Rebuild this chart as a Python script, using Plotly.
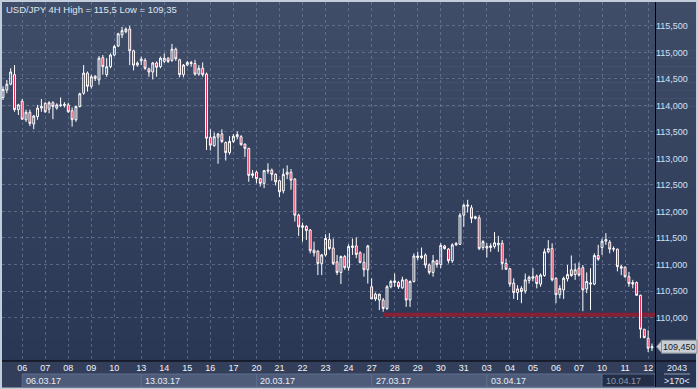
import plotly.graph_objects as go

# ---------------- data ----------------
opens = [114.15,114.29,114.40,114.58,113.92,114.08,113.73,113.87,113.65,113.79,
         113.95,114.04,113.93,114.05,113.95,114.01,114.00,114.01,113.90,113.73,
         113.98,114.23,114.61,114.36,114.55,114.48,114.90,114.58,114.73,114.95,
         115.12,115.33,115.39,115.44,115.03,114.76,114.84,114.85,114.69,114.63,
         114.80,114.73,114.83,114.89,114.85,115.06,114.86,114.58,114.76,114.81,
         114.79,114.59,114.70,114.59,113.40,113.24,113.40,113.46,113.30,113.11,
         113.32,113.41,113.41,113.27,113.19,112.68,112.74,112.62,112.53,112.76,
         112.78,112.70,112.58,112.39,112.70,112.74,112.61,111.93,111.70,111.72,
         111.65,111.27,111.25,111.02,111.18,111.47,111.31,111.05,110.85,111.15,
         110.94,111.32,111.35,111.22,111.04,110.90,110.58,110.44,110.33,110.33,
         110.17,110.58,110.66,110.66,110.56,110.71,110.33,110.68,111.13,111.13,
         111.18,110.99,110.85,111.07,111.00,111.35,111.29,111.07,111.37,111.38,
         111.93,112.10,112.07,111.87,111.88,111.32,111.31,111.32,111.34,111.37,
         111.40,111.02,110.92,110.65,110.47,110.55,110.50,110.70,110.74,110.78,
         110.63,110.79,111.24,111.30,110.74,110.43,110.52,110.73,110.90,110.81,
         110.93,110.94,110.54,110.63,110.63,111.17,111.32,111.44,111.42,111.30,
         111.29,110.96,110.95,110.77,110.66,110.66,110.42,109.78,109.61,109.43]
highs = [114.36,114.48,114.70,114.76,114.03,114.12,113.92,113.92,113.82,114.01,
         114.12,114.06,114.08,114.08,114.04,114.15,114.06,114.05,113.96,113.99,
         114.24,114.76,114.64,114.58,114.57,114.93,114.95,114.89,114.98,115.14,
         115.37,115.48,115.47,115.50,115.05,114.83,114.92,114.89,114.71,114.82,
         114.83,114.92,114.98,114.91,115.16,115.09,114.88,114.78,114.84,114.84,
         114.86,114.76,114.81,114.62,113.55,113.49,113.48,113.55,113.32,113.42,
         113.46,113.51,113.44,113.28,113.20,112.78,112.77,112.63,112.78,112.91,
         112.81,112.72,112.60,112.81,112.87,112.80,112.63,111.96,111.79,111.74,
         111.67,111.43,111.27,111.20,111.57,111.59,111.49,111.18,111.17,111.18,
         111.38,111.49,111.51,111.25,111.21,111.37,110.74,110.47,110.45,110.37,
         110.61,110.71,110.83,110.69,110.77,110.73,110.70,111.21,111.24,111.32,
         111.21,111.02,111.18,111.09,111.40,111.37,111.31,111.40,111.42,111.97,
         112.15,112.22,112.12,111.92,111.93,111.46,111.40,111.40,111.61,111.54,
         111.46,111.11,110.93,110.74,110.61,110.59,110.83,110.79,110.93,110.81,
         110.83,111.30,111.46,111.40,110.76,110.61,110.77,110.99,111.17,111.02,
         111.04,110.99,110.85,110.93,111.21,111.37,111.49,111.59,111.46,111.34,
         111.30,110.99,110.96,110.86,110.71,110.68,110.43,109.78,109.76,109.51]
lows = [114.10,114.23,114.38,113.88,113.82,113.73,113.69,113.61,113.55,113.73,
        113.88,113.86,113.85,113.74,113.92,113.97,113.96,113.86,113.60,113.69,
        113.96,114.20,114.26,114.32,114.46,114.39,114.58,114.54,114.70,114.93,
        115.10,115.27,115.36,114.76,114.66,114.73,114.76,114.67,114.54,114.49,
        114.54,114.70,114.80,114.80,114.82,114.84,114.53,114.53,114.74,114.73,
        114.56,114.56,114.54,113.16,113.15,113.22,112.90,113.29,112.96,113.07,
        113.29,113.36,113.24,113.03,112.56,112.63,112.53,112.47,112.44,112.71,
        112.58,112.49,112.27,112.34,112.61,112.41,111.81,111.54,111.43,111.46,
        111.21,111.15,110.80,110.80,111.15,111.27,110.99,110.80,110.63,110.90,
        110.88,111.18,111.12,111.02,110.77,110.64,110.35,110.31,110.14,110.11,
        110.14,110.55,110.58,110.54,110.54,110.20,110.20,110.66,111.08,111.10,
        110.93,110.81,110.77,110.94,110.93,111.28,111.02,111.03,111.35,111.37,
        111.71,111.98,111.78,111.85,111.27,111.27,111.13,111.24,111.30,111.24,
        110.90,110.90,110.58,110.35,110.33,110.27,110.45,110.64,110.68,110.55,
        110.58,110.77,111.21,110.68,110.27,110.36,110.35,110.68,110.77,110.71,
        110.77,110.12,110.46,110.14,110.61,111.07,111.18,111.37,111.21,111.24,
        110.87,110.80,110.75,110.58,110.55,110.41,109.61,109.61,109.35,109.37]
closes = [114.30,114.40,114.63,113.92,114.01,113.74,113.87,113.66,113.80,113.95,
          113.98,113.88,114.05,113.98,114.01,114.00,114.02,113.88,113.73,113.98,
          114.22,114.61,114.36,114.54,114.51,114.89,114.73,114.73,114.95,115.11,
          115.35,115.41,115.44,115.03,114.76,114.80,114.87,114.70,114.63,114.80,
          114.72,114.89,114.89,114.83,115.06,114.88,114.58,114.76,114.81,114.79,
          114.59,114.70,114.58,113.38,113.25,113.41,113.46,113.32,113.11,113.32,
          113.42,113.45,113.26,113.19,112.68,112.71,112.62,112.53,112.77,112.78,
          112.70,112.56,112.37,112.70,112.74,112.59,111.93,111.71,111.73,111.64,
          111.26,111.22,111.02,111.18,111.49,111.30,111.02,110.85,111.15,110.94,
          111.34,111.35,111.19,111.04,110.90,111.35,110.35,110.35,110.44,110.17,
          110.58,110.68,110.69,110.58,110.71,110.33,110.68,111.16,111.16,111.16,
          110.99,110.85,111.07,111.00,111.36,111.30,111.07,111.37,111.40,111.93,
          112.12,112.12,111.87,111.90,111.30,111.43,111.34,111.35,111.41,111.40,
          111.02,110.91,110.63,110.47,110.54,110.49,110.71,110.76,110.77,110.64,
          110.80,111.24,111.30,110.71,110.43,110.55,110.74,110.81,110.79,110.90,
          110.80,110.52,110.68,110.65,111.17,111.10,111.44,111.47,111.29,111.29,
          110.96,110.93,110.77,110.64,110.63,110.42,109.78,109.62,109.42,109.45]

day_labels = ["06","07","08","09","10","13","14","15","16","17","20","21","22","23",
              "24","27","28","29","30","31","03","04","05","06","07","10","11","12"]
day_start_idx = [5,11,17,23,29,36,42,48,54,60,66,72,78,84,90,96,102,108,114,120,
                 126,132,138,144,150,156,162,168]
week_labels = ["06.03.17","13.03.17","20.03.17","27.03.17","03.04.17","10.04.17"]
week_start_idx = [5,36,66,96,126,156]
price_ticks = [110.0,110.5,111.0,111.5,112.0,112.5,113.0,113.5,114.0,114.5,115.0,115.5]
price_tick_text = ["110,000","110,500","111,000","111,500","112,000","112,500","113,000",
                   "113,500","114,000","114,500","115,000","115,500"]
support_level = 110.05
support_start_idx = 99
title_text = "USD/JPY 4H High = 115,5 Low = 109,35"
last_price_text = "109,450"
corner_top, corner_bottom = "2043", ">170<"

# ---------------- layout geometry ----------------
FW, FH = 698, 389
ML, MR, MT, MB = 2, 43, 2, 28
PW, PH = FW - ML - MR, FH - MT - MB
XMIN, XMAX = -0.26, 169.79
YMIN, YMAX = 109.18, 115.95


def fx(px):
    return (px - ML) / PW


def fy(py):
    return 1 - (py - MT) / PH


def ix(i):
    return (i - XMIN) / (XMAX - XMIN)


x = list(range(len(opens)))

fig = go.Figure()
fig.add_trace(go.Candlestick(
    x=x, open=opens, high=highs, low=lows, close=closes,
    increasing=dict(line=dict(color="#ffffff", width=1), fillcolor="rgba(0,0,0,0)"),
    decreasing=dict(line=dict(color="#ffffff", width=1), fillcolor="#dc143c"),
    whiskerwidth=0, hoverinfo="skip", showlegend=False))

shapes = []
# gradient background
N = 48
top_c, bot_c = (64, 77, 104), (40, 53, 83)
y_top, y_bot = 2, 387
for k in range(N):
    t = k / (N - 1)
    c = tuple(int(round(top_c[j] + (bot_c[j] - top_c[j]) * t)) for j in range(3))
    p0 = y_top + (y_bot - y_top) * k / N
    p1 = y_top + (y_bot - y_top) * (k + 1) / N + 0.6
    shapes.append(dict(type="rect", xref="paper", yref="paper", x0=fx(2), x1=fx(696),
                       y0=fy(p1), y1=fy(p0), fillcolor="rgb(%d,%d,%d)" % c,
                       line=dict(width=0), layer="below"))
# bottom axis panel
shapes.append(dict(type="rect", xref="paper", yref="paper", x0=fx(2), x1=fx(655),
                   y0=fy(387), y1=fy(361), fillcolor="rgb(50,62,90)",
                   line=dict(width=0), layer="below"))
# week boxes
for w, s in enumerate(week_start_idx):
    x0 = ix(s)
    x1 = ix(week_start_idx[w + 1]) if w + 1 < len(week_start_idx) else fx(655)
    last = w == len(week_start_idx) - 1
    shapes.append(dict(type="rect", xref="paper", yref="paper", x0=x0, x1=x1,
                       y0=fy(387), y1=fy(374),
                       fillcolor="rgb(36,46,70)" if last else "rgb(78,92,122)",
                       line=dict(width=1, color="rgb(95,110,140)"), layer="below"))
# separators
shapes.append(dict(type="line", xref="paper", yref="paper", x0=fx(2), x1=fx(696),
                   y0=fy(361), y1=fy(361), line=dict(color="#000000", width=1)))
shapes.append(dict(type="line", xref="paper", yref="paper", x0=fx(655.5), x1=fx(655.5),
                   y0=fy(387), y1=fy(2), line=dict(color="#000000", width=1)))
# corner underline
shapes.append(dict(type="line", xref="paper", yref="paper", x0=fx(664), x1=fx(690),
                   y0=fy(374), y1=fy(374), line=dict(color="rgb(150,160,180)", width=1)))
# support line
shapes.append(dict(type="line", xref="x", yref="y", x0=support_start_idx, x1=XMAX,
                   y0=support_level, y1=support_level,
                   line=dict(color="rgba(150,28,48,0.85)", width=4), layer="between"))
# last price callout
lp = closes[-1]
dy = 6.5 / PH * (YMAX - YMIN)
shapes.append(dict(type="path", xref="paper", yref="y",
                   path="M %f,%f L %f,%f L %f,%f Z" % (fx(656.5), lp, fx(662), lp + dy, fx(662), lp - dy),
                   fillcolor="#c9ced6", line=dict(color="#8a9099", width=1)))
shapes.append(dict(type="rect", xref="paper", yref="y", x0=fx(661.5), x1=fx(697),
                   y0=lp - dy, y1=lp + dy, fillcolor="#c9ced6",
                   line=dict(color="#8a9099", width=1)))

annotations = [
    dict(text=title_text, xref="paper", yref="paper", x=fx(4), y=fy(2), xanchor="left",
         yanchor="top", showarrow=False, font=dict(size=9.5, color="#dfe5ee")),
    dict(text=last_price_text, xref="paper", yref="y", x=fx(679.5), y=lp, xanchor="center",
         yanchor="middle", showarrow=False, font=dict(size=9, color="#1a1a1a")),
    dict(text=corner_top, xref="paper", yref="paper", x=fx(677), y=fy(368), xanchor="center",
         yanchor="middle", showarrow=False, font=dict(size=9, color="#e8edf5")),
    dict(text=corner_bottom, xref="paper", yref="paper", x=fx(677), y=fy(381), xanchor="center",
         yanchor="middle", showarrow=False, font=dict(size=9, color="#e8edf5")),
]
for w, s in enumerate(week_start_idx):
    last = w == len(week_start_idx) - 1
    annotations.append(dict(text=week_labels[w], xref="paper", yref="paper", x=ix(s), y=fy(380.5),
                            xanchor="left", yanchor="middle", xshift=2, showarrow=False,
                            font=dict(size=9, color="#8e99ad" if last else "#e8edf5")))

grid_col = "rgba(120,138,170,0.55)"
fig.update_layout(
    width=FW, height=FH, margin=dict(l=ML, r=MR, t=MT, b=MB, pad=0),
    paper_bgcolor="#c3ccda", plot_bgcolor="rgba(0,0,0,0)",
    font=dict(family="Liberation Sans, Arial, sans-serif"),
    shapes=shapes, annotations=annotations, showlegend=False,
    xaxis=dict(range=[XMIN, XMAX], tickmode="array", tickvals=day_start_idx, ticktext=day_labels,
               showgrid=True, gridcolor=grid_col, griddash="3px,3px", gridwidth=1,
               zeroline=False, showline=False, ticks="", rangeslider=dict(visible=False),
               tickfont=dict(size=9, color="#f2f4f8"), fixedrange=True, automargin=False),
    yaxis=dict(range=[YMIN, YMAX], side="right", tickmode="array", tickvals=price_ticks,
               ticktext=price_tick_text, showgrid=True, gridcolor=grid_col, griddash="3px,3px",
               gridwidth=1, zeroline=False, showline=False, ticks="",
               tickfont=dict(size=9, color="#cfe0f4"), fixedrange=True, automargin=False),
)

fig.write_html("out.html", config={"displayModeBar": False},
               post_script="document.body.style.margin='0px';document.body.style.overflow='hidden';")
